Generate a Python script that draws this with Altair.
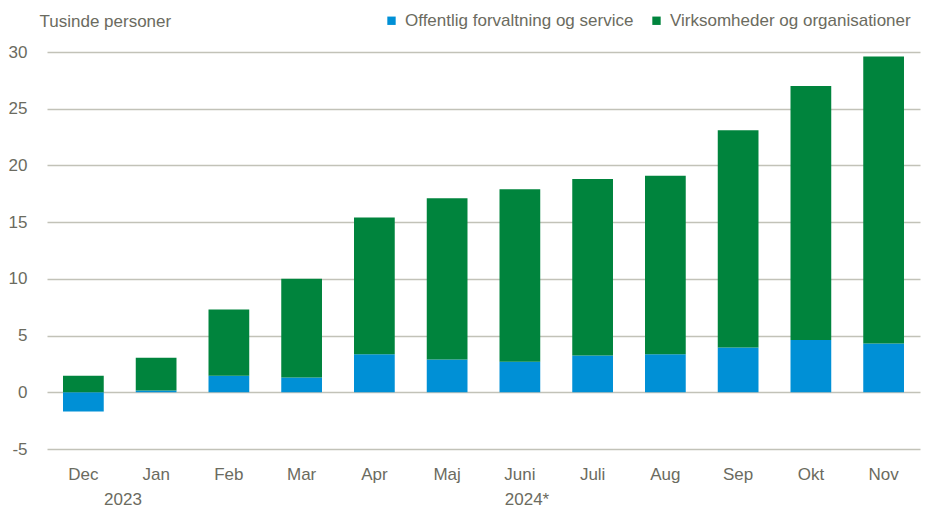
import altair as alt
import pandas as pd

months = ["Dec", "Jan", "Feb", "Mar", "Apr", "Maj", "Juni", "Juli", "Aug", "Sep", "Okt", "Nov"]
offentlig = [-1.7, 0.15, 1.45, 1.3, 3.35, 2.9, 2.7, 3.25, 3.35, 3.95, 4.6, 4.3]
total = [1.45, 3.05, 7.3, 10.0, 15.4, 17.1, 17.9, 18.8, 19.1, 23.1, 27.0, 29.6]
virksomheder = [t - max(o, 0) for t, o in zip(total, offentlig)]

series = ["Offentlig forvaltning og service", "Virksomheder og organisationer"]
colors = ["#0090D6", "#00843D"]
years = ["2023", "2024*"]

rows = []
for m, o, v in zip(months, offentlig, virksomheder):
    rows.append({"month": m, "series": series[0], "value": round(o, 2), "order": 0})
    rows.append({"month": m, "series": series[1], "value": round(v, 2), "order": 1})
df = pd.DataFrame(rows)

FONT = "Liberation Sans"
FS = 17
TXT = "#6b6b60"
GRID = "#c2c2b8"

bars = alt.Chart(df).mark_bar().encode(
    x=alt.X("month:N", sort=months,
            scale=alt.Scale(paddingInner=0.44, paddingOuter=0.22),
            axis=alt.Axis(title=None, labelAngle=0, domain=False, ticks=False,
                          labelPadding=17, labelFontSize=FS, labelColor=TXT, labelFont=FONT)),
    y=alt.Y("value:Q", stack="zero",
            scale=alt.Scale(domain=[-5, 30], nice=False),
            axis=alt.Axis(values=[-5, 0, 5, 10, 15, 20, 25, 30], domain=False, ticks=False,
                          labelExpr="replace(datum.label, '\u2212', '-')",
                          gridColor=GRID, gridWidth=1.5, labelPadding=20,
                          labelFontSize=FS, labelColor=TXT, labelFont=FONT,
                          title="Tusinde personer", titleAngle=0, titleAlign="left",
                          titleBaseline="middle", titleX=-8, titleY=-31,
                          titleFontSize=FS, titleFontWeight="normal", titleColor=TXT,
                          titleFont=FONT)),
    color=alt.Color("series:N", scale=alt.Scale(domain=series, range=colors),
                    legend=alt.Legend(title=None, orient="none", direction="horizontal",
                                      legendX=336, legendY=-40, symbolType="square",
                                      symbolSize=70, symbolStrokeWidth=0,
                                      labelFontSize=FS, labelColor=TXT, labelFont=FONT,
                                      labelLimit=0, columnPadding=14, labelOffset=5)),
    order=alt.Order("order:Q"),
)

ydf = pd.DataFrame({"label": years, "px": [76, 480]})
year_text = alt.Chart(ydf).mark_text(
    fontSize=FS, color=TXT, font=FONT, baseline="middle"
).encode(
    text="label:N",
    x=alt.X("px:Q", scale=None),
    y=alt.value(448),
)

chart = alt.layer(bars, year_text).properties(
    width=873, height=397,
    autosize=alt.AutoSizeParams(type="none"),
    padding={"left": 39, "top": 44, "right": 3, "bottom": 60},
).configure_view(stroke=None)

chart.save("out.html", embed_options={"renderer": "svg", "actions": False})
